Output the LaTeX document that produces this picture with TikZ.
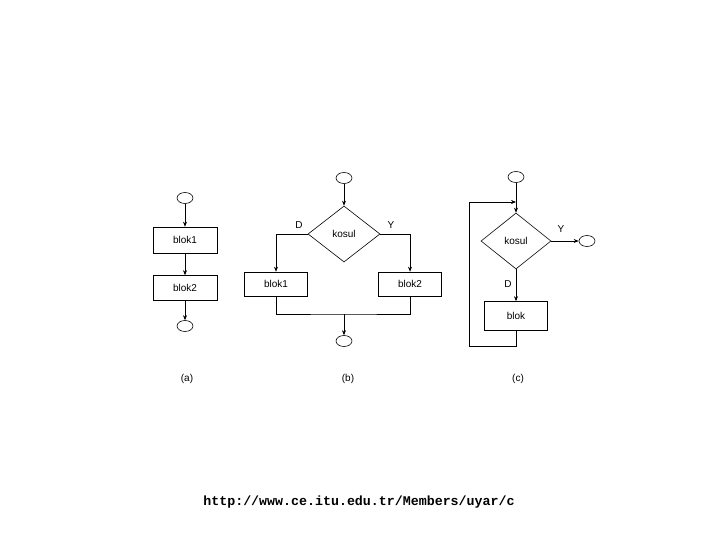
\documentclass[tikz,border=0pt]{standalone}
\usepackage{fontspec}
\setmainfont{Liberation Sans}
\newfontfamily\urlfont{Liberation Mono}
\usetikzlibrary{shapes.geometric,arrows.meta}
\begin{document}
\begin{tikzpicture}[x=1pt,y=-1pt,
  line width=0.6pt,
  every node/.style={font=\fontsize{10}{12}\selectfont},
  term/.style={draw, ellipse, minimum width=16pt, minimum height=11pt, inner sep=0pt},
  blockbox/.style={draw, rectangle, inner sep=0pt},
  cond/.style={draw, diamond, inner sep=0pt},
  arr/.style={-{Stealth[length=5pt,width=4pt]}},
  lbl/.style={inner sep=0pt}]
\useasboundingbox (0,0) rectangle (720,540);
% (a)
\node[term] (a0) at (185,198) {};
\node[blockbox, minimum width=64pt, minimum height=26pt] (a1) at (185,240) {blok1};
\node[blockbox, minimum width=64pt, minimum height=25pt] (a2) at (185,288) {blok2};
\node[term] (a3) at (185,326) {};
\draw[arr] (a0) -- (a1);
\draw[arr] (a1) -- (a2);
\draw[arr] (a2) -- (a3);
\node[lbl] (la) at (187,379) {(a)};
% (b)
\node[term] (b0) at (344,178) {};
\node[cond, minimum width=72pt, minimum height=56pt] (bd) at (344,234) {kosul};
\node[blockbox, minimum width=63pt, minimum height=24pt] (b1) at (276,284) {blok1};
\node[blockbox, minimum width=63pt, minimum height=24pt] (b2) at (410,284) {blok2};
\node[term] (b3) at (344,341) {};
\coordinate (bm) at (344,314);
\draw[arr] (b0) -- (bd.north);
\draw[arr] (bd.west) -| (b1.north);
\draw[arr] (bd.east) -| (b2.north);
\draw (b1.south) |- (bm) -| (b2.south);
\draw[arr] (bm) -- (b3);
\node[lbl] (bD) at (299,225) {D};
\node[lbl] (bY) at (391,225) {Y};
\node[lbl] (lb) at (348,379) {(b)};
% (c)
\node[term] (c0) at (516,177) {};
\node[cond, minimum width=70pt, minimum height=56pt] (cd) at (516,241) {kosul};
\node[term] (c1) at (587,241) {};
\node[blockbox, minimum width=63pt, minimum height=29pt] (cb) at (516,316) {blok};
\coordinate (cj) at (516,202);
\coordinate (cl) at (469,346);
\draw[arr] (c0) -- (cd.north);
\draw[arr] (cd.east) -- (c1);
\draw[arr] (cd.south) -- (cb.north);
\draw[arr] (cb.south) |- (cl) |- (cj);
\node[lbl] (cY) at (561,229) {Y};
\node[lbl] (cD) at (508,284) {D};
\node[lbl] (lc) at (518,379) {(c)};
% url
\node[lbl] (url) at (359,502) {\urlfont\bfseries\fontsize{13.3}{15}\selectfont http://www.ce.itu.edu.tr/Members/uyar/c};
\end{tikzpicture}
\end{document}
